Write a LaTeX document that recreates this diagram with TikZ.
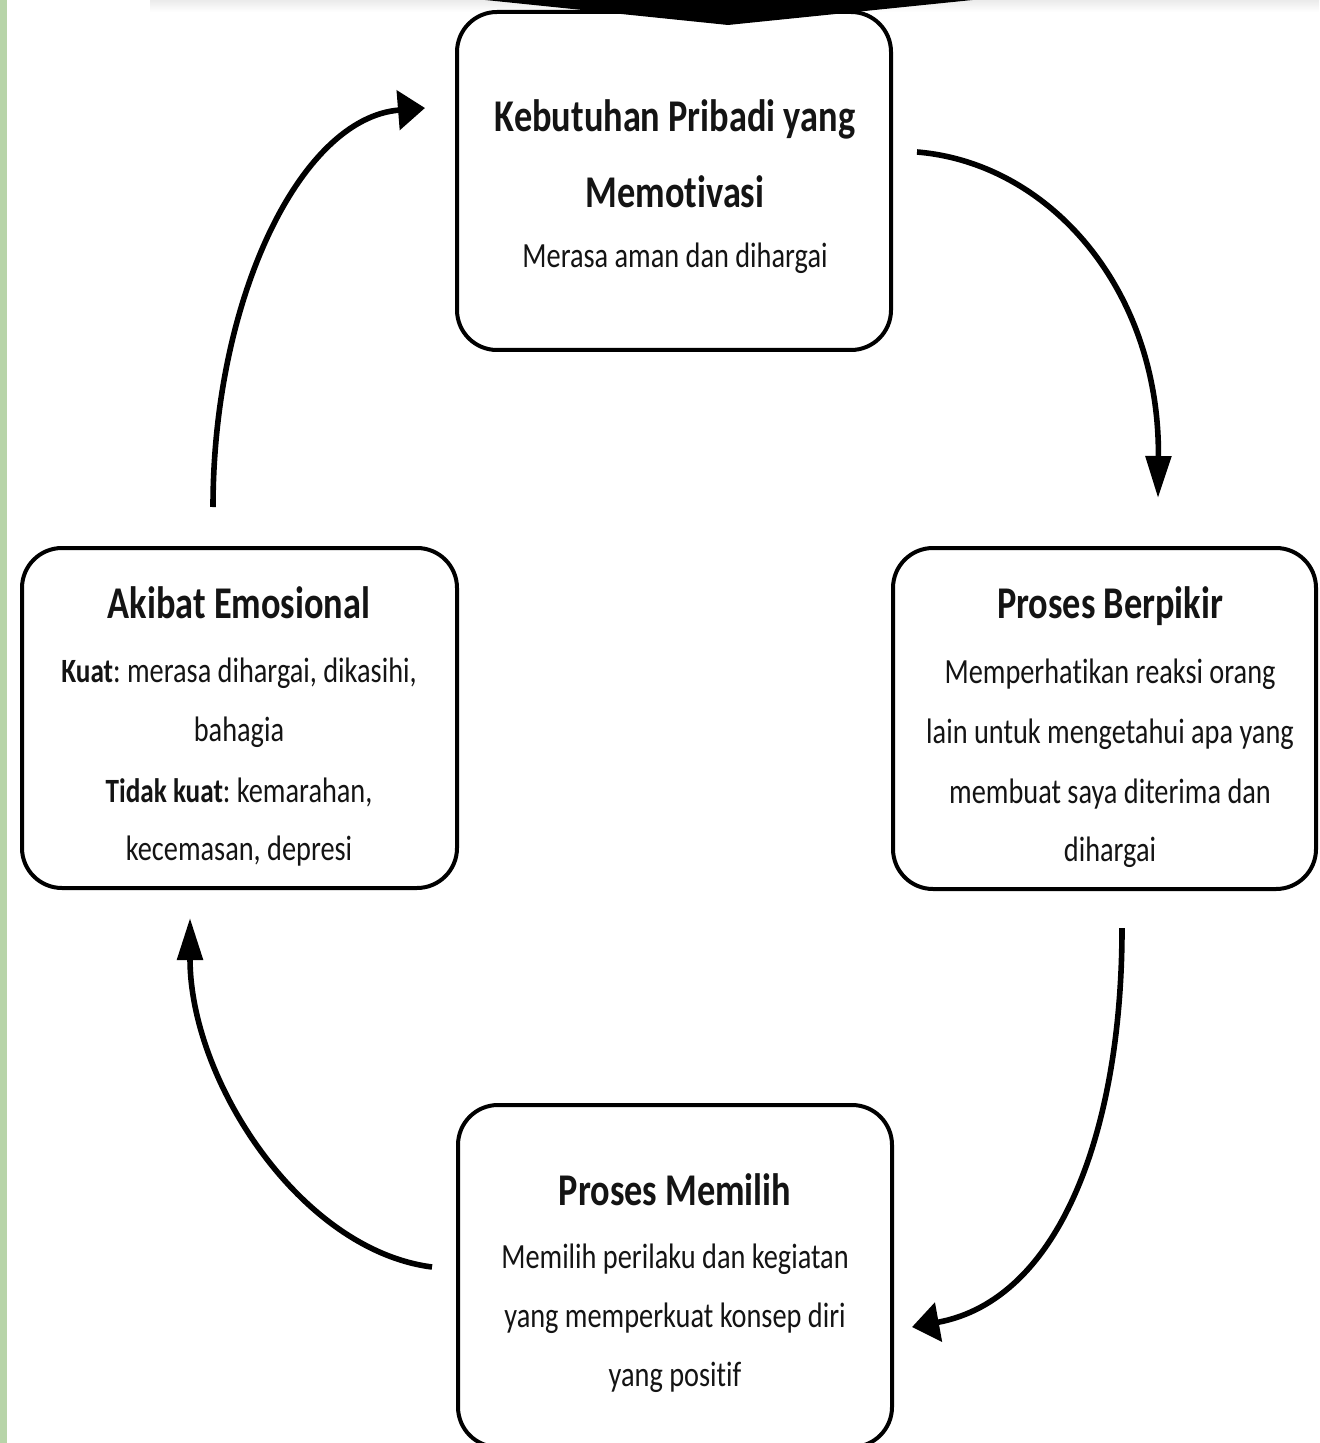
\documentclass[tikz,border=0pt]{standalone}
\usepackage{fontspec}
\setmainfont[FakeStretch=0.8, Ligatures=NoCommon]{Carlito}
\usetikzlibrary{arrows.meta}
\frenchspacing
\definecolor{sidebar}{RGB}{183,212,168}
\definecolor{ink}{RGB}{20,20,20}
\tikzset{
  box/.style={draw=black, line width=2pt, rounded corners=20pt, inner sep=0pt},
  title/.style={anchor=base, inner sep=0pt, text=ink, font=\fontsize{22.7}{27}\selectfont\bfseries},
  body/.style={anchor=base, inner sep=0pt, text=ink, font=\fontsize{17.7}{21}\selectfont},
  flow/.style={line width=2.8pt, line cap=butt},
  vtip/.style={-{Triangle[length=21pt,width=12.5pt]}},
  htip/.style={-{Triangle[length=13.5pt,width=19.5pt]}}
}
\newcommand{\kw}[1]{{\fontsize{17}{21}\selectfont\bfseries #1}}
\begin{document}
\begin{tikzpicture}[x=0.5pt, y=-0.5pt]
  \useasboundingbox (0,0) rectangle (1319,1443);
  \clip (0,0) rectangle (1319,1443);
  \fill[white] (0,0) rectangle (1319,1443);

  % page decorations
  \shade[top color=black!8, bottom color=white] (150,0) rectangle (1319,12);
  \fill[sidebar] (0,0) rectangle (7,1443);

  % the four stages
  \node[box, minimum width=217pt, minimum height=169pt] (need) at (674,181) {};
  \node[box, minimum width=211.5pt, minimum height=170.5pt] (think) at (1104.5,718.5) {};
  \node[box, minimum width=217.5pt, minimum height=170pt] (feel) at (239.5,718) {};
  \node[box, minimum width=217pt, minimum height=171pt] (choose) at (675,1276) {};

  % banner tip over the top box
  \fill[black] (466,-2) -- (728,25) -- (992,-2) -- cycle;

  % texts of the top stage
  \node[title] (needA) at (675,132) {Kebutuhan Pribadi yang};
  \node[title] (needB) at (675,208) {Memotivasi};
  \node[body]  (needC) at (675,268) {Merasa aman dan dihargai};

  % texts of the right stage
  \node[title] (thinkA) at (1110,618) {Proses Berpikir};
  \node[body]  (thinkB) at (1110,683) {Memperhatikan reaksi orang};
  \node[body]  (thinkC) at (1110,743) {lain untuk mengetahui apa yang};
  \node[body]  (thinkD) at (1110,803) {membuat saya diterima dan};
  \node[body]  (thinkE) at (1110,861) {dihargai};

  % texts of the left stage
  \node[title] (feelA) at (239,618) {Akibat Emosional};
  \node[body]  (feelB) at (239,682) {\kw{Kuat}: merasa dihargai, dikasihi,};
  \node[body]  (feelC) at (239,741) {bahagia};
  \node[body]  (feelD) at (239,802) {\kw{Tidak kuat}: kemarahan,};
  \node[body]  (feelE) at (239,860) {kecemasan, depresi};

  % texts of the bottom stage
  \node[title] (chooseA) at (675,1205) {Proses Memilih};
  \node[body]  (chooseB) at (675,1268) {Memilih perilaku dan kegiatan};
  \node[body]  (chooseC) at (675,1327) {yang memperkuat konsep diri};
  \node[body]  (chooseD) at (675,1386) {yang positif};

  % connector ends between the stages
  \coordinate (a1s) at (917,152);  \coordinate (a1e) at (1158,498);
  \coordinate (a2s) at (1122,928); \coordinate (a2e) at (912,1327);
  \coordinate (a3s) at (432,1267); \coordinate (a3e) at (190,918);
  \coordinate (a4s) at (213,507);  \coordinate (a4e) at (425,108);

  % the cycle
  \draw[flow, vtip] (a1s) .. controls (1050,163) and (1160,290) .. (a1e);
  \draw[flow, htip] (a2s) .. controls (1122,1130) and (1060,1300) .. (a2e);
  \draw[flow, vtip] (a3s) .. controls (300,1250) and (190,1080) .. (a3e);
  \draw[flow, htip] (a4s) .. controls (213,300) and (300,118) .. (a4e);
\end{tikzpicture}
\end{document}
